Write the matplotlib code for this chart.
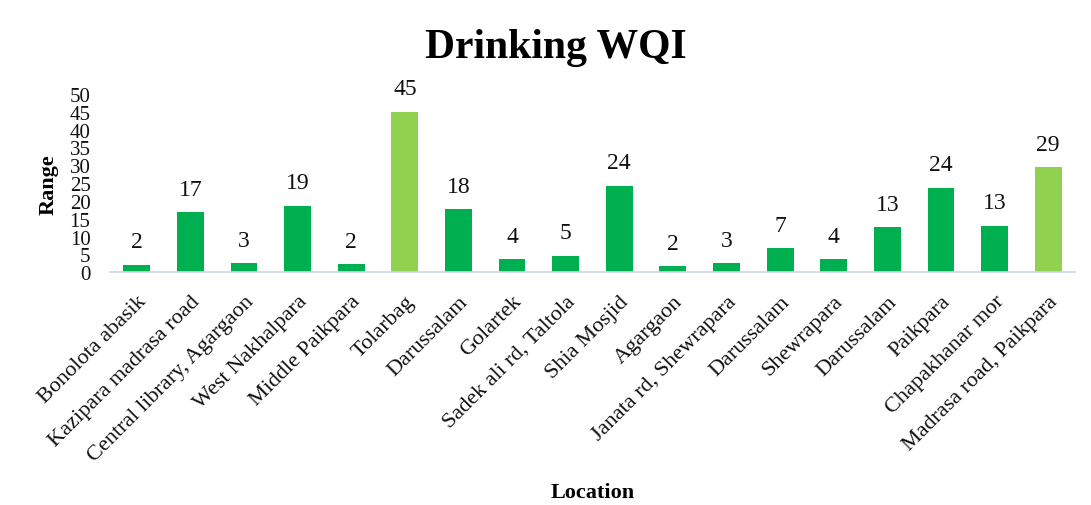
import matplotlib
matplotlib.use("Agg")
import matplotlib.pyplot as plt

locations = ["Bonolota abasik", "Kazipara madrasa road", "Central library, Agargaon",
             "West Nakhalpara", "Middle Paikpara", "Tolarbag", "Darussalam", "Golartek",
             "Sadek ali rd, Taltola", "Shia Mosjid", "Agargaon", "Janata rd, Shewrapara",
             "Darussalam", "Shewrapara", "Darussalam", "Paikpara", "Chapakhanar mor",
             "Madrasa road, Paikpara"]
values = [2.1, 16.8, 2.6, 18.6, 2.2, 45.0, 17.7, 3.6, 4.6, 24.3, 1.7, 2.6,
          6.7, 3.6, 12.6, 23.7, 13.0, 29.4]
labels = ["2", "17", "3", "19", "2", "45", "18", "4", "5", "24", "2", "3",
          "7", "4", "13", "24", "13", "29"]
highlight = [False, False, False, False, False, True, False, False, False, False,
             False, False, False, False, False, False, False, True]

dark_green = "#00B050"
light_green = "#92D050"
serif = ["Liberation Serif", "DejaVu Serif"]
plt.rcParams["font.family"] = serif

fig = plt.figure(figsize=(10.91, 5.06), dpi=100)
ax = fig.add_axes([0.1008, 0.4599, 0.8845, 0.3524])

colors = [light_green if h else dark_green for h in highlight]
x = list(range(len(locations)))
bars = ax.bar(x, values, width=0.5, color=colors, zorder=2)
ax.bar_label(bars, labels=labels, padding=9, fontsize=17, color="#111111")

ax.set_xlim(-0.5, len(locations) - 0.5)
ax.set_ylim(0, 50)
ax.set_yticks(range(0, 51, 5))
ax.tick_params(axis="y", length=0, pad=14, labelsize=15, labelcolor="#111111")
ax.set_xticks(x)
ax.set_xticklabels(locations, rotation=45, ha="right", va="top",
                   rotation_mode="anchor", fontsize=16, color="#111111")
ax.tick_params(axis="x", length=0, pad=14)

for s in ["top", "right", "left"]:
    ax.spines[s].set_visible(False)
ax.spines["bottom"].set_color("#C9D7EC")
ax.spines["bottom"].set_linewidth(1.2)

ax.set_ylabel("Range", fontsize=16, fontweight="bold")
ax.yaxis.set_label_coords(-0.053, 0.5)
fig.text(0.5435, 0.005, "Location", ha="center", va="bottom", fontsize=16, fontweight="bold")
fig.text(0.509, 0.905, "Drinking WQI", ha="center", va="center", fontsize=30, fontweight="bold")

fig.savefig("out.png", dpi=100)
